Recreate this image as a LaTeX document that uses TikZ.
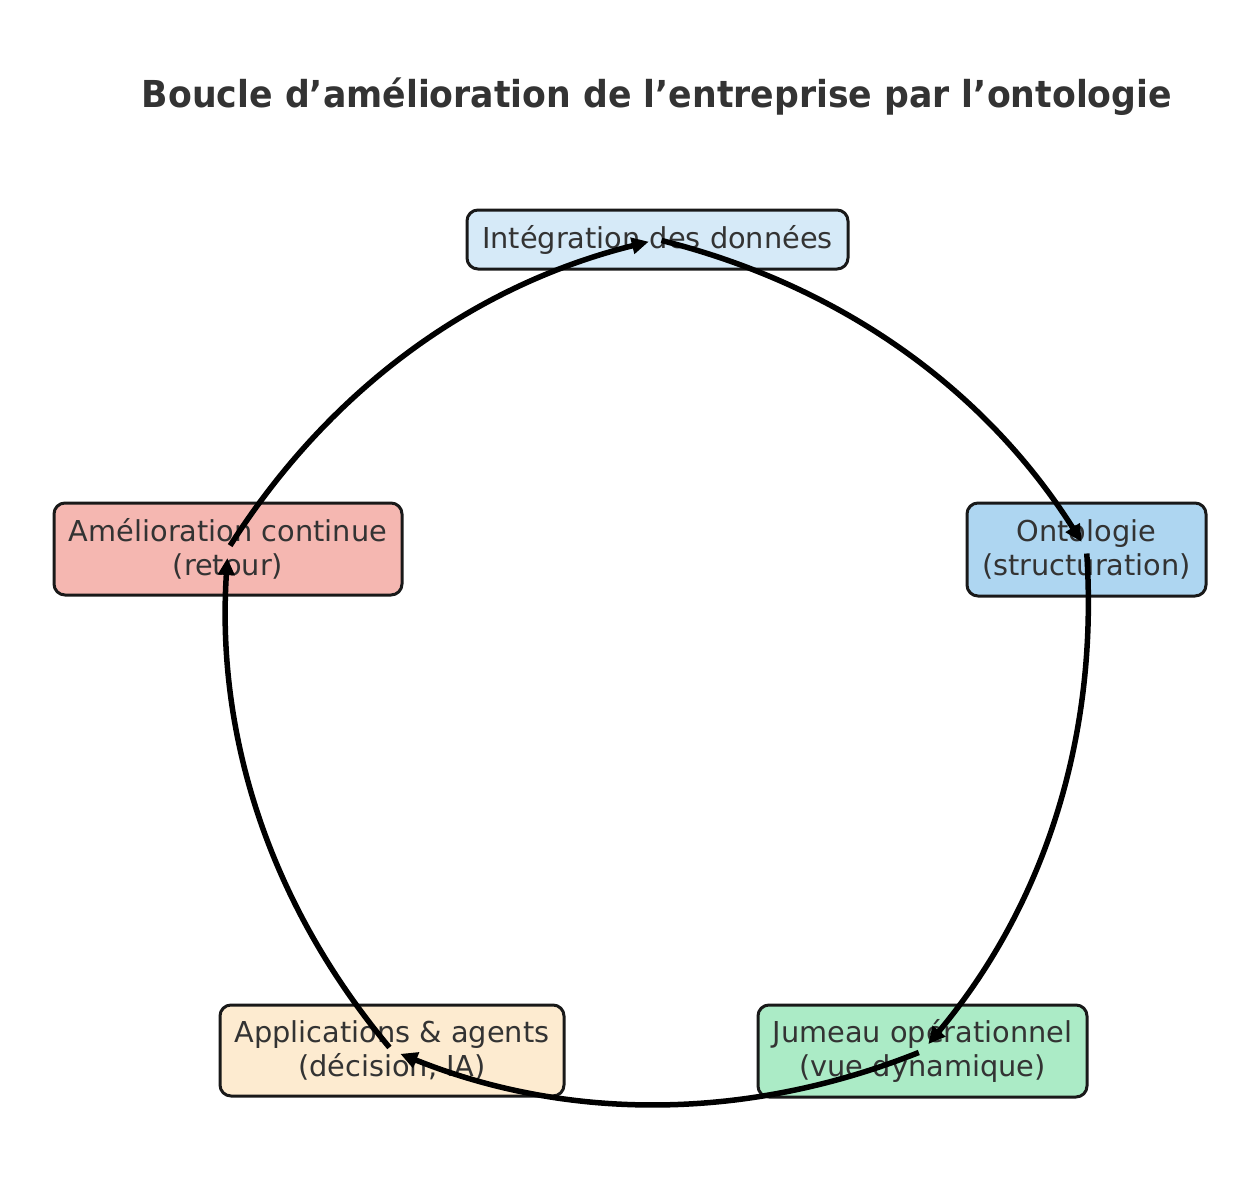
\documentclass[tikz,border=0pt]{standalone}
\usepackage{fontspec}
\usepackage{graphicx}
\setmainfont{DejaVu Sans}
\usetikzlibrary{arrows.meta}
\definecolor{txt}{HTML}{333333}
\definecolor{cint}{HTML}{D6EAF8}
\definecolor{cont}{HTML}{AED6F1}
\definecolor{cjum}{HTML}{ABEBC6}
\definecolor{capp}{HTML}{FDEBD0}
\definecolor{came}{HTML}{F5B7B1}
\begin{document}
\begin{tikzpicture}[x=1pt,y=-1pt,
  stage/.style={draw=black!90, line width=3pt, rounded corners=11pt, inner sep=0pt,
    align=center, text=txt, font=\fontsize{28.8}{34}\selectfont},
  flow/.style={line width=5.5pt, draw=black, line cap=butt,
    -{Triangle[length=17pt,width=16pt]}, shorten <=4pt, shorten >=9pt},
  ttl/.style={text=txt, font=\fontsize{34.7}{40}\selectfont\bfseries}]
\useasboundingbox (0,0) rectangle (1248,1202);
\node[ttl] (title) at (657,97) {\scalebox{1}[1.07]{Boucle d’amélioration de l’entreprise par l’ontologie}};
\node[stage, fill=cint, minimum width=381pt, minimum height=59pt] (int) at (657.5,239.5) {Intégration des données};
\node[stage, fill=cont, minimum width=239pt, minimum height=93pt] (ont) at (1086.5,549.5) {Ontologie\\(structuration)};
\node[stage, fill=cjum, minimum width=329pt, minimum height=92pt] (jum) at (922.5,1051) {Jumeau opérationnel\\(vue dynamique)};
\node[stage, fill=capp, minimum width=344pt, minimum height=91pt] (app) at (392,1050.5) {Applications \& agents\\(décision, IA)};
\node[stage, fill=came, minimum width=348pt, minimum height=92pt] (ame) at (228,549) {Amélioration continue\\(retour)};
\draw[flow] (int.center) to[bend left=21.8, looseness=0.917] (ont.center);
\draw[flow] (ont.center) to[bend left=21.8, looseness=0.917] (jum.center);
\draw[flow] (jum.center) to[bend left=21.8, looseness=0.917] (app.center);
\draw[flow] (app.center) to[bend left=21.8, looseness=0.917] (ame.center);
\draw[flow] (ame.center) to[bend left=21.8, looseness=0.917] (int.center);
\end{tikzpicture}
\end{document}
